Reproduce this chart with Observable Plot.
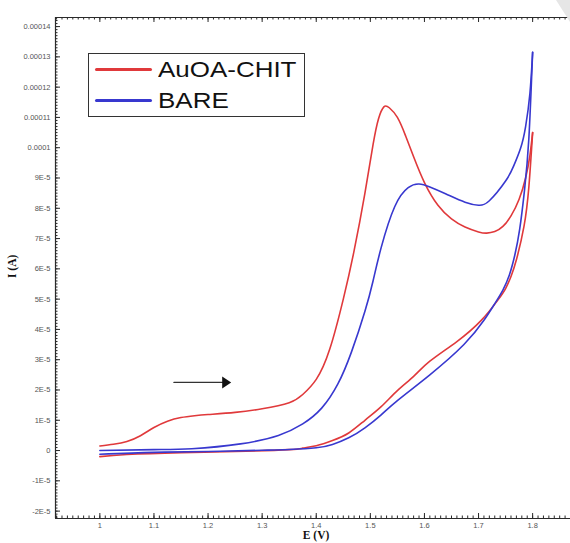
<!DOCTYPE html>
<html>
<head>
<meta charset="utf-8">
<script src="https://cdn.jsdelivr.net/npm/d3@7"></script>
<script src="https://cdn.jsdelivr.net/npm/@observablehq/plot@0.6"></script>
<style>
  html, body { margin: 0; padding: 0; background: #fff; }
  #wrap { position: relative; width: 570px; height: 543px; overflow: hidden; }
  #corner { position: absolute; right: 0; top: 0; width: 0; height: 0;
            border-top: 22px solid #e6e6e6; border-left: 14px solid transparent; }
  #legend { position: absolute; left: 88px; top: 53px; width: 215px; height: 62px;
            border: 1.6px solid #333; background: #fff; font-family: "Liberation Sans", Arial, sans-serif; }
  .row { position: absolute; left: 0; height: 30px; width: 100%; }
  .swatch { position: absolute; left: 6px; width: 57px; height: 3px; border-radius: 2px; }
  .lab { position: absolute; left: 69px; font-size: 22px; color: #111; line-height: 1;
         transform: scaleX(1.18); transform-origin: left center; white-space: nowrap; }
</style>
</head>
<body>
<div id="wrap"></div>
<script>
// ---- data ----
const seriesNames = ["AuOA-CHIT", "BARE"];
const seriesColors = ["#e0393b", "#3838cf"];

// AuOA-CHIT forward scan (E in V, I in A)
const redFwdE = [1.00, 1.025, 1.05, 1.075, 1.10, 1.125, 1.15, 1.175, 1.20, 1.25, 1.30, 1.35, 1.375, 1.40, 1.425, 1.45, 1.47, 1.49, 1.505, 1.515, 1.525, 1.535, 1.55, 1.565, 1.58, 1.60, 1.625, 1.65, 1.675, 1.70, 1.715, 1.73, 1.745, 1.76, 1.775, 1.787, 1.795, 1.80];
const redFwdI = [1.5e-6, 2.1e-6, 3.0e-6, 4.9e-6, 7.6e-6, 9.7e-6, 1.09e-5, 1.15e-5, 1.19e-5, 1.26e-5, 1.38e-5, 1.58e-5, 1.85e-5, 2.35e-5, 3.35e-5, 5.0e-5, 6.6e-5, 8.5e-5, 1.01e-4, 1.095e-4, 1.135e-4, 1.132e-4, 1.10e-4, 1.04e-4, 9.7e-5, 8.85e-5, 8.1e-5, 7.65e-5, 7.38e-5, 7.22e-5, 7.18e-5, 7.23e-5, 7.4e-5, 7.75e-5, 8.3e-5, 9.0e-5, 9.75e-5, 1.05e-4];
// AuOA-CHIT reverse scan
const redRevE = [1.80, 1.793, 1.784, 1.77, 1.76, 1.75, 1.735, 1.705, 1.66, 1.61, 1.58, 1.55, 1.52, 1.49, 1.46, 1.43, 1.40, 1.375, 1.35, 1.25, 1.15, 1.05, 1.00];
const redRevI = [1.05e-4, 8.7e-5, 7.4e-5, 6.3e-5, 5.75e-5, 5.35e-5, 4.95e-5, 4.3e-5, 3.6e-5, 2.95e-5, 2.45e-5, 1.98e-5, 1.45e-5, 1.0e-5, 5.8e-6, 3.3e-6, 1.6e-6, 8e-7, 3e-7, -3e-7, -7e-7, -1.3e-6, -2.0e-6];
// BARE forward scan
const blueFwdE = [1.00, 1.10, 1.17, 1.26, 1.33, 1.375, 1.41, 1.44, 1.465, 1.49, 1.505, 1.52, 1.545, 1.57, 1.59, 1.61, 1.64, 1.675, 1.70, 1.72, 1.75, 1.765, 1.778, 1.787, 1.795, 1.80];
const blueFwdI = [0, 3e-7, 6e-7, 2.2e-6, 5.0e-6, 8.8e-6, 1.4e-5, 2.2e-5, 3.25e-5, 4.6e-5, 5.6e-5, 6.7e-5, 8.05e-5, 8.68e-5, 8.8e-5, 8.7e-5, 8.47e-5, 8.2e-5, 8.1e-5, 8.25e-5, 8.9e-5, 9.4e-5, 1.0e-4, 1.07e-4, 1.18e-4, 1.315e-4];
// BARE reverse scan
const blueRevE = [1.80, 1.793, 1.785, 1.776, 1.767, 1.757, 1.745, 1.73, 1.71, 1.673, 1.61, 1.55, 1.52, 1.49, 1.46, 1.43, 1.40, 1.35, 1.30, 1.20, 1.10, 1.00];
const blueRevI = [1.315e-4, 1.03e-4, 8.6e-5, 7.3e-5, 6.45e-5, 5.8e-5, 5.3e-5, 4.85e-5, 4.3e-5, 3.5e-5, 2.5e-5, 1.65e-5, 1.18e-5, 7.5e-6, 4.2e-6, 2.0e-6, 9e-7, 3.5e-7, 1e-7, -3e-7, -6e-7, -1.2e-6];

// axes
const xTickValues = [1.0, 1.1, 1.2, 1.3, 1.4, 1.5, 1.6, 1.7, 1.8];
const xTickLabels = ["1", "1.1", "1.2", "1.3", "1.4", "1.5", "1.6", "1.7", "1.8"];
const yTickValues = [-2e-5, -1e-5, 0, 1e-5, 2e-5, 3e-5, 4e-5, 5e-5, 6e-5, 7e-5, 8e-5, 9e-5, 1e-4, 1.1e-4, 1.2e-4, 1.3e-4, 1.4e-4];
const yTickLabels = ["-2E-5", "-1E-5", "0", "1E-5", "2E-5", "3E-5", "4E-5", "5E-5", "6E-5", "7E-5", "8E-5", "9E-5", "0.0001", "0.00011", "0.00012", "0.00013", "0.00014"];
const xDomain = [0.918, 1.870];
const yDomain = [-2.244e-5, 1.430e-4];
const xLabel = "E (V)";
const yLabel = "I (A)";

// scan-direction arrow annotation
const arrowE = [1.137, 1.2345];
const arrowI = 2.25e-5;

// ---- build tables ----
const rows = [];
function addBranch(series, branch, E, I) {
  E.forEach((e, i) => rows.push({series, branch: series + branch, E: e, I: I[i]}));
}
addBranch(seriesNames[0], "f", redFwdE, redFwdI);
addBranch(seriesNames[0], "r", redRevE, redRevI);
addBranch(seriesNames[1], "f", blueFwdE, blueFwdI);
addBranch(seriesNames[1], "r", blueRevE, blueRevI);

const W = 570, H = 543, mL = 55, mR = 0, mT = 17, mB = 25;
const fw = W - mL - mR, fh = H - mT - mB;
const xMinor = d3.range(92, 187).map(i => i / 100);
const yMinor = d3.range(-22, 143).map(i => i * 1e-6);

const axisColor = "#2a2a2a";
const tickFont = {fontSize: 7.5, fill: "#555"};

const triRight = {draw(ctx) { ctx.moveTo(-4.5, -6); ctx.lineTo(4.5, 0); ctx.lineTo(-4.5, 6); ctx.closePath(); }};

const chart = Plot.plot({
  width: W, height: H,
  marginLeft: mL, marginRight: mR, marginTop: mT, marginBottom: mB,
  x: {domain: xDomain, axis: null},
  y: {domain: yDomain, axis: null},
  color: {domain: seriesNames, range: seriesColors},
  style: {fontFamily: "'Liberation Sans', Arial, sans-serif", background: "transparent", overflow: "visible"},
  marks: [
    // bottom ticks (inward)
    Plot.tickX(xMinor, {x: d => d, insetTop: fh - 2.5, stroke: axisColor}),
    Plot.tickX(xTickValues, {x: d => d, insetTop: fh - 5, stroke: axisColor}),
    // top ticks (inward)
    Plot.tickX(xMinor, {x: d => d, insetBottom: fh - 2.5, stroke: axisColor}),
    Plot.tickX(xTickValues, {x: d => d, insetBottom: fh - 5, stroke: axisColor}),
    // left ticks (inward)
    Plot.tickY(yMinor, {y: d => d, insetRight: fw - 2.5, stroke: axisColor}),
    Plot.tickY(yTickValues, {y: d => d, insetRight: fw - 5, stroke: axisColor}),
    // frame lines
    Plot.ruleX([xDomain[0]], {stroke: axisColor, strokeWidth: 1.2}),
    Plot.ruleY(yDomain, {stroke: axisColor, strokeWidth: 1.2}),
    // tick labels
    Plot.text(xTickValues, {x: d => d, frameAnchor: "bottom", dy: 9, text: (d, i) => xTickLabels[i], ...tickFont}),
    Plot.text(yTickValues, {y: d => d, frameAnchor: "left", dx: -5, textAnchor: "end", text: (d, i) => yTickLabels[i], ...tickFont}),
    // axis titles
    Plot.text([xLabel], {frameAnchor: "bottom", dx: 3, dy: 20, text: d => d, fontFamily: "'Liberation Serif', 'Times New Roman', serif", fontWeight: "bold", fontSize: 11.5, fill: "#111"}),
    Plot.text([yLabel], {frameAnchor: "left", dx: -43, dy: 10, rotate: -90, text: d => d, fontFamily: "'Liberation Serif', 'Times New Roman', serif", fontWeight: "bold", fontSize: 11.5, fill: "#111"}),
    // curves
    Plot.line(rows, {x: "E", y: "I", z: "branch", stroke: "series", strokeWidth: 1.6, curve: "natural", sort: "E"}),
    // arrow
    Plot.line(arrowE.map(e => ({E: e, I: arrowI})), {x: "E", y: "I", stroke: "#333", strokeWidth: 1.4}),
    Plot.dot([{E: arrowE[1], I: arrowI}], {x: "E", y: "I", symbol: triRight, fill: "#111", stroke: "none"})
  ]
});

const wrap = document.getElementById("wrap");
const corner = document.createElement("div");
corner.id = "corner";
wrap.appendChild(corner);
wrap.appendChild(chart);

// legend
const legend = document.createElement("div");
legend.id = "legend";
seriesNames.forEach((name, i) => {
  const row = document.createElement("div");
  row.className = "row";
  row.style.top = (1 + i * 31) + "px";
  const sw = document.createElement("div");
  sw.className = "swatch";
  sw.style.top = "13px";
  sw.style.background = seriesColors[i];
  const lab = document.createElement("div");
  lab.className = "lab";
  lab.style.top = "4px";
  lab.textContent = name;
  row.appendChild(sw);
  row.appendChild(lab);
  legend.appendChild(row);
});
wrap.appendChild(legend);
</script>
</body>
</html>
